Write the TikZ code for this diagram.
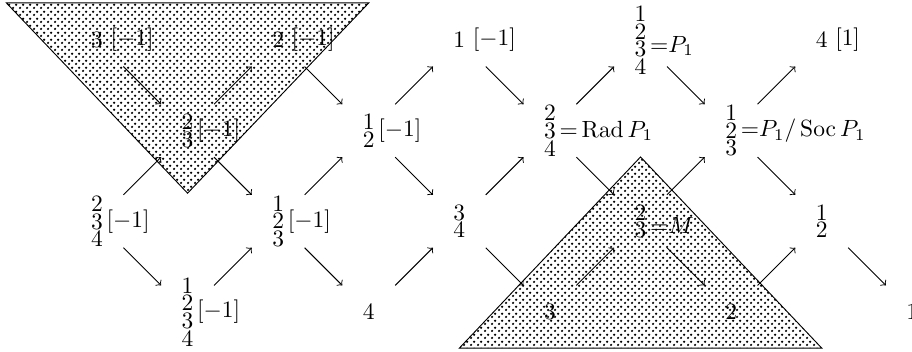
\documentclass[tikz,border=0pt]{standalone}
\usepackage{amsmath}
\usepackage{tikz}
\usetikzlibrary{patterns}

\pgfdeclarepatternformonly{finedots}{\pgfqpoint{-1pt}{-1pt}}{\pgfqpoint{2pt}{2pt}}{\pgfqpoint{3pt}{3pt}}{%
  \pgfpathcircle{\pgfqpoint{0pt}{0pt}}{.6pt}%
  \pgfpathcircle{\pgfqpoint{1.5pt}{1.5pt}}{.6pt}%
  \pgfusepath{fill}}

\tikzset{
  vert/.style={inner sep=0pt},
  stack/.style={inner sep=0pt, font=\fontsize{10}{7.5}\selectfont, align=center},
  lbl/.style={inner sep=0pt, label distance=1.2pt},
  tag/.style={label={[lbl]east:{#1}}},
  arr/.style={->, shorten <=0.56cm, shorten >=0.56cm},
  dotted region/.style={draw, pattern=finedots}
}

\begin{document}
\begin{tikzpicture}[x=1.357cm, y=1.357cm]
  \useasboundingbox (-1.0706,0.4425) rectangle (8.9964,-3.432);
  % row 1
  \node[vert, tag={$\,[-1]$}] (n10) at (0,0) {$3$};
  \node[vert, tag={$\,[-1]$}] (n12) at (2,0) {$2$};
  \node[vert, tag={$\,[-1]$}] (n14) at (4,0) {$1$};
  \node[stack, label={[lbl, yshift=-2.5pt]east:{${=}P_1$}}] (n16) at (6,0) {1\\2\\3\\4};
  \node[vert, tag={$\,[1]$}] (n18) at (8,0) {$4$};
  % row 2
  \node[stack, tag={$[-1]$}] (n21) at (1,-1) {2\\3};
  \node[stack, tag={$[-1]$}] (n23) at (3,-1) {1\\2};
  \node[stack, tag={${=}\operatorname{Rad}P_1$}] (n25) at (5,-1) {2\\3\\4};
  \node[stack, tag={${=}P_1/\operatorname{Soc}P_1$}] (n27) at (7,-1) {1\\2\\3};
  % row 3
  \node[stack, tag={$[-1]$}] (n30) at (0,-2) {2\\3\\4};
  \node[stack, tag={$[-1]$}] (n32) at (2,-2) {1\\2\\3};
  \node[stack] (n34) at (4,-2) {3\\4};
  \node[stack, label={[lbl, yshift=-2pt]east:{${=}M$}}] (n36) at (6,-2) {2\\3};
  \node[stack] (n38) at (8,-2) {1\\2};
  % row 4
  \node[stack, tag={$[-1]$}] (n41) at (1,-3) {1\\2\\3\\4};
  \node[vert] (n43) at (3,-3) {$4$};
  \node[vert] (n45) at (5,-3) {$3$};
  \node[vert] (n47) at (7,-3) {$2$};
  \node[vert] (n49) at (9,-3) {$1$};

  % arrows
  \draw[arr] (n10.center) -- (n21.center);
  \draw[arr] (n12.center) -- (n23.center);
  \draw[arr] (n14.center) -- (n25.center);
  \draw[arr] (n16.center) -- (n27.center);
  \draw[arr] (n21.center) -- (n12.center);
  \draw[arr] (n23.center) -- (n14.center);
  \draw[arr] (n25.center) -- (n16.center);
  \draw[arr] (n27.center) -- (n18.center);
  \draw[arr] (n21.center) -- (n32.center);
  \draw[arr] (n23.center) -- (n34.center);
  \draw[arr] (n25.center) -- (n36.center);
  \draw[arr] (n27.center) -- (n38.center);
  \draw[arr] (n30.center) -- (n21.center);
  \draw[arr] (n32.center) -- (n23.center);
  \draw[arr] (n34.center) -- (n25.center);
  \draw[arr] (n36.center) -- (n27.center);
  \draw[arr] (n30.center) -- (n41.center);
  \draw[arr] (n32.center) -- (n43.center);
  \draw[arr] (n34.center) -- (n45.center);
  \draw[arr] (n36.center) -- (n47.center);
  \draw[arr] (n38.center) -- (n49.center);
  \draw[arr] (n41.center) -- (n32.center);
  \draw[arr] (n43.center) -- (n34.center);
  \draw[arr] (n45.center) -- (n36.center);
  \draw[arr] (n47.center) -- (n38.center);

  % shaded regions
  \draw[dotted region] (-1,0.41) -- (3,0.41) -- (1,-1.69) -- cycle;
  \draw[dotted region] (6,-1.29) -- (8,-3.40) -- (4,-3.40) -- cycle;
\end{tikzpicture}
\end{document}
